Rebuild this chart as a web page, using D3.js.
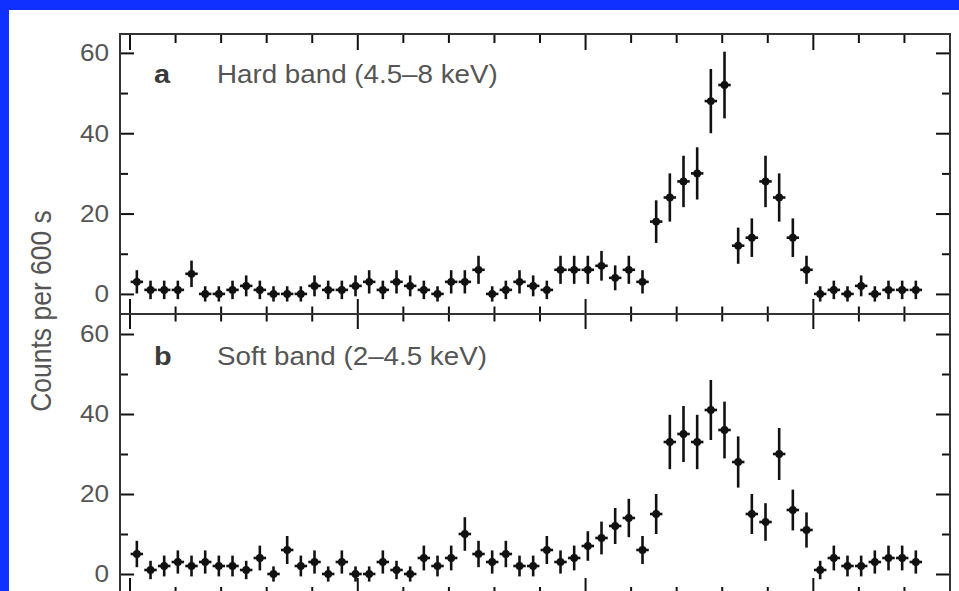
<!DOCTYPE html>
<html lang="en">
<head>
  <meta charset="UTF-8">
  <title>Counts per 600 s</title>
  <style>
    html, body { margin: 0; padding: 0; background: #1030ff; }
    svg { display: block; }
  </style>
</head>
<body>
  <script src="https://d3js.org/d3.v7.min.js"></script>
  <script>
    // 600 s bins, counts
    const binWidth = 600;
    const hardCounts = [3, 1, 1, 1, 5, 0, 0, 1, 2, 1, 0, 0, 0, 2,
      1, 1, 2, 3, 1, 3, 2, 1, 0, 3, 3, 6, 0, 1, 3, 2, 1, 6, 6, 6, 7, 4, 6, 3,
      18, 24, 28, 30, 48, 52, 12, 14, 28, 24, 14, 6,
      0, 1, 0, 2, 0, 1, 1, 1];
    const hardErr = [2.9, 2.3, 2.3, 2.3, 3.3, 1.9, 1.9, 2.3, 2.6, 2.3, 1.9, 1.9, 1.9, 2.6,
      2.3, 2.3, 2.6, 2.9, 2.3, 2.9, 2.6, 2.3, 1.9, 2.9, 2.9, 3.5, 1.9, 2.3, 2.9, 2.6, 2.3, 3.5, 3.5, 3.5, 3.7, 3.1, 3.5, 2.9,
      5.3, 6.0, 6.4, 6.5, 8.0, 8.3, 4.5, 4.8, 6.4, 6.0, 4.8, 3.5,
      1.9, 2.3, 1.9, 2.6, 1.9, 2.3, 2.3, 2.3];
    const softCounts = [5, 1, 2, 3, 2, 3, 2, 2, 1, 4, 0, 6, 2, 3,
      0, 3, 0, 0, 3, 1, 0, 4, 2, 4, 10, 5, 3, 5, 2, 2, 6, 3, 4, 7, 9, 12,
      14, 6, 15, 33, 35, 33, 41, 36, 28, 15, 13, 30, 16, 11,
      1, 4, 2, 2, 3, 4, 4, 3];
    const softErr = [3.3, 2.3, 2.6, 2.9, 2.6, 2.9, 2.6, 2.6, 2.3, 3.1, 1.9, 3.5, 2.6, 2.9,
      1.9, 2.9, 1.9, 1.9, 2.9, 2.3, 1.9, 3.1, 2.6, 3.1, 4.2, 3.3, 2.9, 3.3, 2.6, 2.6, 3.5, 2.9, 3.1, 3.7, 4.1, 4.5,
      4.8, 3.5, 5.0, 6.8, 7.0, 6.8, 7.5, 7.1, 6.4, 5.0, 4.7, 6.5, 5.1, 4.4,
      2.3, 3.1, 2.6, 2.6, 2.9, 3.1, 3.1, 2.9];
    const yTicks = [0, 20, 40, 60];
    const yMinorTicks = [10, 30, 50];
    const xTicks = d3.range(0, 36000, 2000);
    const panels = [
      { id: 'a', label: 'Hard band (4.5–8 keV)', counts: hardCounts, err: hardErr },
      { id: 'b', label: 'Soft band (2–4.5 keV)', counts: softCounts, err: softErr }
    ];
    const yLabel = 'Counts per 600 s';

    const W = 959, H = 591;
    const frame = { left: 120, right: 950, top: 34, mid: 314, bottom: 594 };
    const stretch = 1.11; // picture is a little wider than tall
    const ink = '#111';
    const grey = '#555';

    const svg = d3.select('body').append('svg')
      .attr('width', W)
      .attr('height', H);

    // white paper inside blue border
    svg.append('rect')
      .attr('x', 9).attr('y', 10)
      .attr('width', W - 9).attr('height', H - 10)
      .attr('fill', '#fff');

    const x = d3.scaleLinear()
      .domain([-440, 36000])
      .range([frame.left, frame.right]);

    const yScales = [
      d3.scaleLinear().domain([-5, 64.7]).range([frame.mid, frame.top]),
      d3.scaleLinear().domain([-5, 65]).range([frame.bottom, frame.mid])
    ];

    const font = '"Liberation Sans", Arial, Helvetica, sans-serif';

    panels.forEach((p, pi) => {
      const y = yScales[pi];
      const g = svg.append('g');
      const y1 = y.range()[1];

      // left / right axes with inward ticks
      const left = d3.axisRight(y).tickValues(yTicks).tickSize(14).tickFormat('');
      const leftMinor = d3.axisRight(y).tickValues(yMinorTicks).tickSize(8).tickFormat('');
      const right = d3.axisLeft(y).tickValues(yTicks).tickSize(14).tickFormat('');
      const rightMinor = d3.axisLeft(y).tickValues(yMinorTicks).tickSize(8).tickFormat('');
      [[left, frame.left], [leftMinor, frame.left], [right, frame.right], [rightMinor, frame.right]]
        .forEach(([ax, px]) => {
          g.append('g')
            .attr('transform', `translate(${px},0)`)
            .call(ax)
            .call(s => s.select('.domain').remove())
            .call(s => s.selectAll('line').attr('stroke', ink).attr('stroke-width', 2));
        });

      // tick labels
      g.append('g').selectAll('text')
        .data(yTicks)
        .join('text')
        .attr('transform', d => `translate(109,${y(d)}) scale(1.09,1)`)
        .attr('text-anchor', 'end')
        .attr('dy', '0.35em')
        .attr('font-family', font)
        .attr('font-size', 24)
        .attr('fill', grey)
        .text(d => d);

      // panel letter and label
      const baseY = y1 + 49 + pi * 2;
      g.append('text')
        .attr('transform', `translate(154,${baseY}) scale(${stretch},1)`)
        .attr('font-family', font)
        .attr('font-weight', 'bold')
        .attr('font-size', 26)
        .attr('fill', '#3a3a3a')
        .text(p.id);
      g.append('text')
        .attr('transform', `translate(217,${baseY}) scale(${stretch},1)`)
        .attr('font-family', font)
        .attr('font-size', 25)
        .attr('fill', grey)
        .text(p.label);

      // error bars
      const pts = g.append('g');
      const data = p.counts.map((c, i) => ({ t: (i + 0.5) * binWidth, c, e: p.err[i] }));
      pts.selectAll('line.v')
        .data(data)
        .join('line')
        .attr('class', 'v')
        .attr('x1', d => x(d.t)).attr('x2', d => x(d.t))
        .attr('y1', d => y(d.c - d.e)).attr('y2', d => y(d.c + d.e))
        .attr('stroke', ink).attr('stroke-width', 2.6);
      pts.selectAll('line.h')
        .data(data)
        .join('line')
        .attr('class', 'h')
        .attr('x1', d => x(d.t - binWidth / 2) + 0.6)
        .attr('x2', d => x(d.t + binWidth / 2) - 0.6)
        .attr('y1', d => y(d.c)).attr('y2', d => y(d.c))
        .attr('stroke', ink).attr('stroke-width', 2.6);
      pts.selectAll('path')
        .data(data)
        .join('path')
        .attr('transform', d => `translate(${x(d.t)},${y(d.c)})`)
        .attr('d', d3.symbol(d3.symbolCircle, 48))
        .attr('fill', ink);
    });

    // x ticks: top edge, shared middle line, bottom edge
    const isMajor = d => d % 10000 === 0;
    const xt = svg.append('g').attr('stroke', ink).attr('stroke-width', 2);
    xt.selectAll('line.top')
      .data(xTicks)
      .join('line')
      .attr('class', 'top')
      .attr('x1', d => x(d)).attr('x2', d => x(d))
      .attr('y1', frame.top).attr('y2', d => frame.top + (isMajor(d) ? 16 : 9));
    xt.selectAll('line.mid')
      .data(xTicks)
      .join('line')
      .attr('class', 'mid')
      .attr('x1', d => x(d)).attr('x2', d => x(d))
      .attr('y1', d => frame.mid - (isMajor(d) ? 15 : 7.5))
      .attr('y2', d => frame.mid + (isMajor(d) ? 15 : 7.5));
    xt.selectAll('line.bot')
      .data(xTicks)
      .join('line')
      .attr('class', 'bot')
      .attr('x1', d => x(d)).attr('x2', d => x(d))
      .attr('y1', d => frame.bottom - (isMajor(d) ? 16 : 7)).attr('y2', frame.bottom);

    // frame
    svg.append('rect')
      .attr('x', frame.left).attr('y', frame.top)
      .attr('width', frame.right - frame.left)
      .attr('height', frame.bottom - frame.top)
      .attr('fill', 'none')
      .attr('stroke', '#333').attr('stroke-width', 2);
    svg.append('line')
      .attr('x1', frame.left).attr('x2', frame.right)
      .attr('y1', frame.mid).attr('y2', frame.mid)
      .attr('stroke', '#333').attr('stroke-width', 2);

    // y axis title
    svg.append('text')
      .attr('transform', `translate(51,311) scale(1.09,1) rotate(-90)`)
      .attr('text-anchor', 'middle')
      .attr('font-family', font)
      .attr('font-size', 26.5)
      .attr('fill', grey)
      .text(yLabel);
  </script>
</body>
</html>
